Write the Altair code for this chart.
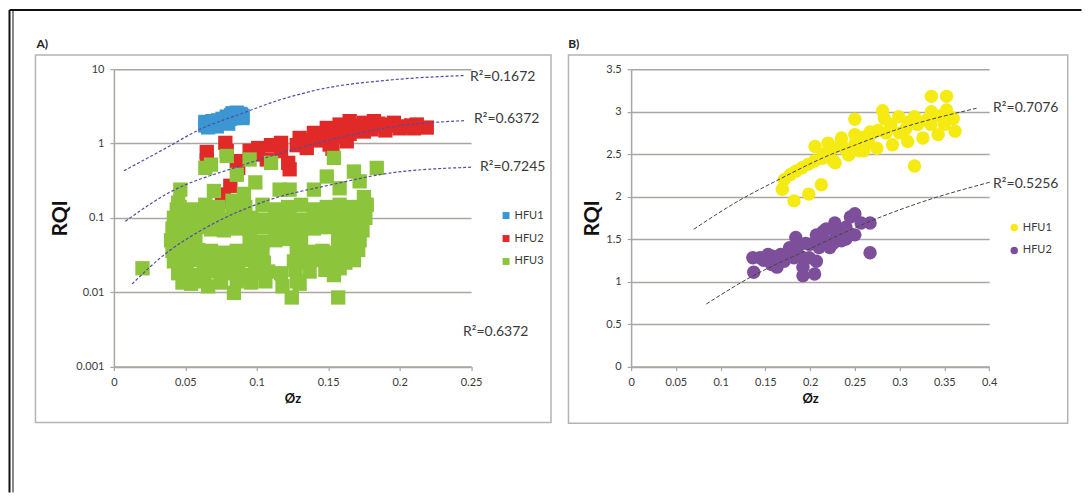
import altair as alt
import pandas as pd

FONT = "Lato"
GRID = "#aaa6a3"
FRAME = "#b4b4b4"
TXT = "#3a3a3a"

# ---------------- Panel A data (log RQI vs Øz) ----------------
a_series = ["HFU1", "HFU2", "HFU3"]
a_colors = ["#3c96d2", "#e12a28", "#8cc43c"]

a_hfu1_x = [0.064, 0.064, 0.067, 0.069, 0.071, 0.073, 0.075, 0.076, 0.078, 0.079, 0.081, 0.082,
            0.084, 0.085, 0.087, 0.088, 0.090, 0.090, 0.066, 0.072, 0.080, 0.086, 0.083, 0.089]
a_hfu1_y = [1.75, 1.95, 1.80, 2.00, 1.85, 2.05, 1.90, 2.15, 2.00, 2.30, 2.15, 2.40,
            2.20, 2.45, 2.30, 2.50, 2.35, 2.20, 1.65, 1.70, 1.85, 2.60, 2.55, 2.45]

a_hfu2_x = [0.065, 0.065, 0.078, 0.079, 0.086, 0.087, 0.101, 0.100, 0.107, 0.117, 0.117, 0.122,
            0.123, 0.130, 0.135, 0.140, 0.149, 0.151, 0.153, 0.158, 0.158, 0.163, 0.165, 0.168,
            0.171, 0.175, 0.178, 0.182, 0.186, 0.189, 0.193, 0.196, 0.203, 0.208, 0.219, 0.0815,
            0.077, 0.0757, 0.145, 0.160, 0.185,
            0.150, 0.155, 0.160, 0.165, 0.170, 0.175, 0.180, 0.190, 0.200, 0.210, 0.212, 0.145,
            0.135, 0.128, 0.110, 0.095]
a_hfu2_y = [0.77, 0.59, 1.02, 0.79, 0.58, 0.47, 0.87, 0.71, 0.61, 0.79, 1.02, 0.55,
            0.45, 1.19, 0.87, 1.39, 1.62, 0.97, 0.85, 1.80, 1.32, 1.07, 2.00, 1.47,
            1.75, 1.90, 1.65, 2.00, 1.70, 1.80, 1.75, 1.90, 1.70, 1.75, 1.64, 0.27,
            0.206, 0.167, 1.25, 1.55, 1.85,
            1.30, 1.45, 1.25, 1.35, 1.50, 1.45, 1.55, 1.50, 1.60, 1.60, 1.80, 1.10,
            1.10, 0.95, 0.95, 0.80]

a_hfu3_x = [
    # upper and isolated points
    0.020, 0.0465, 0.045, 0.044, 0.068, 0.064, 0.079, 0.086, 0.095, 0.110, 0.070, 0.099, 0.116,
    0.123, 0.140, 0.149, 0.154, 0.158, 0.168, 0.172, 0.184, 0.175, 0.177, 0.083, 0.091,
    # low points
    0.084, 0.1245, 0.157, 0.118, 0.130, 0.154, 0.054, 0.066,
    # main cloud
    0.046, 0.055, 0.064, 0.073, 0.083, 0.092, 0.104, 0.113, 0.122, 0.131, 0.140, 0.149, 0.158, 0.167, 0.175,
    0.042, 0.051, 0.060, 0.069, 0.078, 0.087, 0.096, 0.105, 0.114, 0.123, 0.132, 0.141, 0.150, 0.159, 0.168, 0.176,
    0.041, 0.050, 0.059, 0.068, 0.077, 0.086, 0.095, 0.104, 0.113, 0.122, 0.131, 0.140, 0.149, 0.158, 0.167, 0.174,
    0.040, 0.049, 0.057, 0.095, 0.104, 0.113, 0.122, 0.131, 0.157, 0.165, 0.172,
    0.041, 0.050, 0.059, 0.068, 0.077, 0.086, 0.095, 0.104, 0.128, 0.137, 0.146, 0.155, 0.164, 0.171,
    0.042, 0.051, 0.060, 0.069, 0.078, 0.087, 0.096, 0.105, 0.126, 0.135, 0.144, 0.153, 0.162, 0.168,
    0.045, 0.054, 0.063, 0.072, 0.081, 0.090, 0.099, 0.108, 0.117, 0.127, 0.137, 0.148, 0.158,
    0.048, 0.057, 0.075, 0.086, 0.096, 0.106, 0.128,
]
a_hfu3_y = [
    0.021, 0.24, 0.16, 0.13, 0.52, 0.47, 0.68, 0.38, 0.61, 0.55, 0.23, 0.30, 0.24,
    0.24, 0.24, 0.36, 0.64, 0.25, 0.42, 0.31, 0.47, 0.19, 0.15, 0.17, 0.21,
    0.0098, 0.0085, 0.0085, 0.012, 0.013, 0.017, 0.013, 0.012,
    0.14, 0.13, 0.15, 0.14, 0.13, 0.14, 0.15, 0.13, 0.14, 0.15, 0.13, 0.14, 0.15, 0.14, 0.13,
    0.100, 0.095, 0.100, 0.105, 0.095, 0.100, 0.100, 0.095, 0.105, 0.100, 0.095, 0.100, 0.105, 0.100, 0.095, 0.100,
    0.072, 0.070, 0.075, 0.070, 0.068, 0.072, 0.070, 0.075, 0.072, 0.068, 0.070, 0.072, 0.075, 0.070, 0.072, 0.068,
    0.050, 0.048, 0.052, 0.050, 0.048, 0.050, 0.052, 0.050, 0.050, 0.048, 0.050,
    0.036, 0.035, 0.037, 0.036, 0.034, 0.036, 0.035, 0.037, 0.036, 0.035, 0.036, 0.034, 0.036, 0.037,
    0.026, 0.025, 0.027, 0.026, 0.025, 0.026, 0.027, 0.025, 0.026, 0.025, 0.027, 0.026, 0.025, 0.027,
    0.018, 0.017, 0.018, 0.019, 0.018, 0.017, 0.018, 0.019, 0.018, 0.020, 0.019, 0.020, 0.021,
    0.0135, 0.014, 0.0135, 0.014, 0.0135, 0.014, 0.014,
]

a_t1_x = [0.007, 0.037, 0.0605, 0.090, 0.114, 0.145, 0.195, 0.245]
a_t1_y = [0.43, 0.88, 1.56, 2.55, 3.75, 5.40, 7.20, 8.20]
a_t2_x = [0.008, 0.037, 0.0885, 0.144, 0.200, 0.245]
a_t2_y = [0.090, 0.21, 0.50, 1.03, 1.73, 2.03]
a_t3_x = [0.0127, 0.037, 0.0605, 0.107, 0.154, 0.189, 0.250]
a_t3_y = [0.0129, 0.034, 0.067, 0.17, 0.284, 0.39, 0.48]

a_r2_text = ["R²=0.1672", "R²=0.6372", "R²=0.7245", "R²=0.6372"]
a_r2_x = [0.2493, 0.2521, 0.2563, 0.2444]
a_r2_y = [7.95, 2.15, 0.486, 0.0029]

a_xticks = [0, 0.05, 0.1, 0.15, 0.2, 0.25]
a_yticks = [0.001, 0.01, 0.1, 1, 10]

# ---------------- Panel B data (linear RQI vs Øz) ----------------
b_series = ["HFU1", "HFU2"]
b_colors = ["#f5eb12", "#7d4f9b"]

b_hfu1_x = [0.169, 0.182, 0.1985, 0.2125, 0.2055, 0.220, 0.235, 0.250, 0.250, 0.243, 0.228, 0.255,
            0.267, 0.281, 0.283, 0.276, 0.292, 0.299, 0.307, 0.309, 0.3166, 0.3166, 0.326, 0.3355,
            0.3355, 0.343, 0.3525, 0.3525, 0.360, 0.362, 0.171, 0.178, 0.184, 0.191, 0.198, 0.205,
            0.213, 0.220, 0.228, 0.235, 0.260, 0.270, 0.290, 0.310, 0.330, 0.345, 0.2746, 0.226,
            0.245, 0.260, 0.250, 0.265, 0.285, 0.300, 0.320, 0.335, 0.350, 0.355, 0.240, 0.215]
b_hfu1_y = [2.086, 1.95, 2.03, 2.14, 2.59, 2.63, 2.69, 2.91, 2.73, 2.49, 2.40, 2.54,
            2.76, 3.01, 2.92, 2.78, 2.61, 2.94, 2.80, 2.65, 2.94, 2.36, 2.69, 3.18,
            3.00, 2.73, 3.18, 3.02, 2.92, 2.77, 2.20, 2.26, 2.30, 2.34, 2.38, 2.42,
            2.45, 2.52, 2.58, 2.62, 2.70, 2.75, 2.85, 2.88, 2.90, 2.95, 2.57, 2.42,
            2.52, 2.54, 2.62, 2.65, 2.75, 2.75, 2.85, 2.85, 2.85, 2.95, 2.55, 2.50]

b_hfu2_x = [0.136, 0.137, 0.144, 0.153, 0.163, 0.167, 0.171, 0.177, 0.184, 0.186, 0.192, 0.192,
            0.192, 0.199, 0.205, 0.207, 0.210, 0.2145, 0.220, 0.222, 0.2276, 0.229, 0.235, 0.240,
            0.245, 0.250, 0.250, 0.257, 0.267, 0.267, 0.200, 0.207, 0.182, 0.157,
            0.175, 0.195, 0.212, 0.218, 0.232, 0.240, 0.226, 0.158, 0.148]
b_hfu2_y = [1.28, 1.11, 1.28, 1.32, 1.17, 1.32, 1.24, 1.40, 1.52, 1.40, 1.28, 1.17,
            1.07, 1.28, 1.09, 1.24, 1.40, 1.59, 1.47, 1.40, 1.69, 1.56, 1.48, 1.64,
            1.76, 1.80, 1.55, 1.69, 1.69, 1.34, 1.44, 1.55, 1.28, 1.20,
            1.33, 1.45, 1.50, 1.62, 1.60, 1.50, 1.45, 1.30, 1.25]

b_t1_x = [0.070, 0.120, 0.163, 0.224, 0.2485, 0.300, 0.386]
b_t1_y = [1.616, 1.95, 2.19, 2.50, 2.60, 2.80, 3.04]
b_t2_x = [0.084, 0.133, 0.1965, 0.267, 0.323, 0.401]
b_t2_y = [0.736, 1.05, 1.37, 1.71, 1.93, 2.17]

b_r2_text = ["R²=0.7076", "R²=0.5256"]
b_r2_x = [0.4045, 0.4045]
b_r2_y = [3.04, 2.15]

b_xticks = [0, 0.05, 0.1, 0.15, 0.2, 0.25, 0.3, 0.35, 0.4]
b_yticks = [0, 0.5, 1, 1.5, 2, 2.5, 3, 3.5]

# ---------------- tables ----------------
def points(series, xs_list, ys_list):
    rows = []
    for s, xs, ys in zip(series, xs_list, ys_list):
        for x, y in zip(xs, ys):
            rows.append({"x": x, "y": y, "series": s})
    return pd.DataFrame(rows)

def curves(xs_list, ys_list):
    rows = []
    for i, (xs, ys) in enumerate(zip(xs_list, ys_list)):
        for j, (x, y) in enumerate(zip(xs, ys)):
            rows.append({"x": x, "y": y, "curve": f"c{i}", "o": j})
    return pd.DataFrame(rows)

a_pts = points(a_series, [a_hfu1_x, a_hfu2_x, a_hfu3_x], [a_hfu1_y, a_hfu2_y, a_hfu3_y])
a_trend = curves([a_t1_x, a_t2_x, a_t3_x], [a_t1_y, a_t2_y, a_t3_y])
a_lab = pd.DataFrame({"x": a_r2_x, "y": a_r2_y, "t": a_r2_text})

b_pts = points(b_series, [b_hfu1_x, b_hfu2_x], [b_hfu1_y, b_hfu2_y])
b_trend = curves([b_t1_x, b_t2_x], [b_t1_y, b_t2_y])
b_lab = pd.DataFrame({"x": b_r2_x, "y": b_r2_y, "t": b_r2_text})

# ---------------- layout (page pixels) ----------------
A_X0, A_X1, A_Y0, A_Y1 = 113.5, 471.0, 68.3, 366.0
B_X0, B_X1 = 630.7, 989.0
W_A = A_X1 - A_X0
W_B = B_X1 - B_X0
H = A_Y1 - A_Y0
ONE = alt.Data(values=[{}])


def axis_x(values, pad_title):
    return alt.Axis(values=values, format="~g", grid=False, labelFlush=False, labelOverlap=False,
                    tickSize=4, labelPadding=6, title="Øz", titleFontSize=13, titleFontWeight="bold",
                    titlePadding=pad_title)


def axis_y(values, pad_title):
    return alt.Axis(values=values, format="~g", grid=True, labelFlush=False, labelOverlap=False,
                    tickSize=4, labelPadding=6, title="RQI", titleFontSize=21, titleFontWeight="bold",
                    titlePadding=pad_title)


def frame(x0, x1, y0, y1, ox, oy):
    return alt.Chart(ONE).mark_rect(fillOpacity=0, stroke=FRAME, strokeWidth=1.5).encode(
        x=alt.value(x0 - ox), x2=alt.value(x1 - ox), y=alt.value(y0 - oy), y2=alt.value(y1 - oy))


def panel_tag(text, px, py, ox, oy):
    return alt.Chart(ONE).mark_text(align="left", baseline="middle", font=FONT, fontSize=12,
                                    fontWeight="bold", color="#222").encode(
        x=alt.value(px - ox), y=alt.value(py - oy), text=alt.value(text))


# ---- Panel A ----
ax = alt.X("x:Q", scale=alt.Scale(domain=[0, 0.25], nice=False, zero=False), axis=axis_x(a_xticks, 5))
ay = alt.Y("y:Q", scale=alt.Scale(type="log", domain=[0.001, 10], nice=False), axis=axis_y(a_yticks, 5))

a_points = alt.Chart(a_pts).mark_square(size=205, opacity=1).encode(
    x=ax, y=ay,
    color=alt.Color("series:N", scale=alt.Scale(domain=a_series, range=a_colors),
                    legend=alt.Legend(title=None, orient="none", legendX=387, legendY=141,
                                      symbolType="square", symbolSize=48, symbolStrokeWidth=0,
                                      labelFont=FONT, labelFontSize=11, labelColor=TXT,
                                      labelOffset=3, rowPadding=11)),
)
a_lines = alt.Chart(a_trend).mark_line(color="#5549a6", strokeWidth=1.2, strokeDash=[3, 2],
                                       interpolate="monotone").encode(
    x=ax, y=ay, detail="curve:N", order="o:Q")
a_text = alt.Chart(a_lab).mark_text(align="left", baseline="middle", font=FONT, fontSize=14,
                                    color=TXT).encode(x=ax, y=ay, text="t:N")

left = alt.layer(
    frame(35, 551, 54, 422, A_X0, A_Y0),
    a_points, a_lines, a_text,
    panel_tag("A)", 36, 43, A_X0, A_Y0),
    # outer page border (top line and left double line)
    alt.Chart(ONE).mark_rule(color="#111", strokeWidth=2).encode(
        x=alt.value(9 - A_X0), x2=alt.value(1082 - A_X0), y=alt.value(9 - A_Y0)),
    alt.Chart(ONE).mark_rule(color="#111", strokeWidth=2).encode(
        x=alt.value(9 - A_X0), y=alt.value(9 - A_Y0), y2=alt.value(492 - A_Y0)),
    alt.Chart(ONE).mark_rule(color="#111", strokeWidth=1).encode(
        x=alt.value(12.5 - A_X0), y=alt.value(10 - A_Y0), y2=alt.value(492 - A_Y0)),
).properties(width=W_A, height=H)

# ---- Panel B ----
bx = alt.X("x:Q", scale=alt.Scale(domain=[0, 0.4], nice=False, zero=False), axis=axis_x(b_xticks, 5))
by = alt.Y("y:Q", scale=alt.Scale(domain=[0, 3.5], nice=False, zero=False), axis=axis_y(b_yticks, 3))

b_points = alt.Chart(b_pts).mark_circle(size=180, opacity=1).encode(
    x=bx, y=by,
    color=alt.Color("series:N", scale=alt.Scale(domain=b_series, range=b_colors),
                    legend=alt.Legend(title=None, orient="none", legendX=378, legendY=153,
                                      symbolType="circle", symbolSize=56, symbolStrokeWidth=0,
                                      labelFont=FONT, labelFontSize=11, labelColor=TXT,
                                      labelOffset=3, rowPadding=11)),
)
b_lines = alt.Chart(b_trend).mark_line(color="#444", strokeWidth=1, strokeDash=[4, 2],
                                       interpolate="monotone").encode(
    x=bx, y=by, detail="curve:N", order="o:Q")
b_text = alt.Chart(b_lab).mark_text(align="left", baseline="middle", font=FONT, fontSize=14,
                                    color=TXT).encode(x=bx, y=by, text="t:N")

right = alt.layer(
    frame(568, 1067.7, 54, 422.7, B_X0, A_Y0),
    b_points, b_lines, b_text,
    panel_tag("B)", 567.7, 43, B_X0, A_Y0),
).properties(width=W_B, height=H)

chart = alt.hconcat(left, right, spacing=B_X0 - A_X1, bounds="flush").resolve_scale(
    color="independent", x="independent", y="independent"
).properties(padding=0).configure_view(stroke=None).configure_axis(
    labelFont=FONT, titleFont=FONT, labelFontSize=11, labelColor=TXT, titleColor="#111",
    domainColor=GRID, domainWidth=1.5, tickColor=GRID, tickWidth=1.2,
    gridColor=GRID, gridWidth=1.5,
)

chart.save("out.html", embed_options={"renderer": "svg", "actions": False})
